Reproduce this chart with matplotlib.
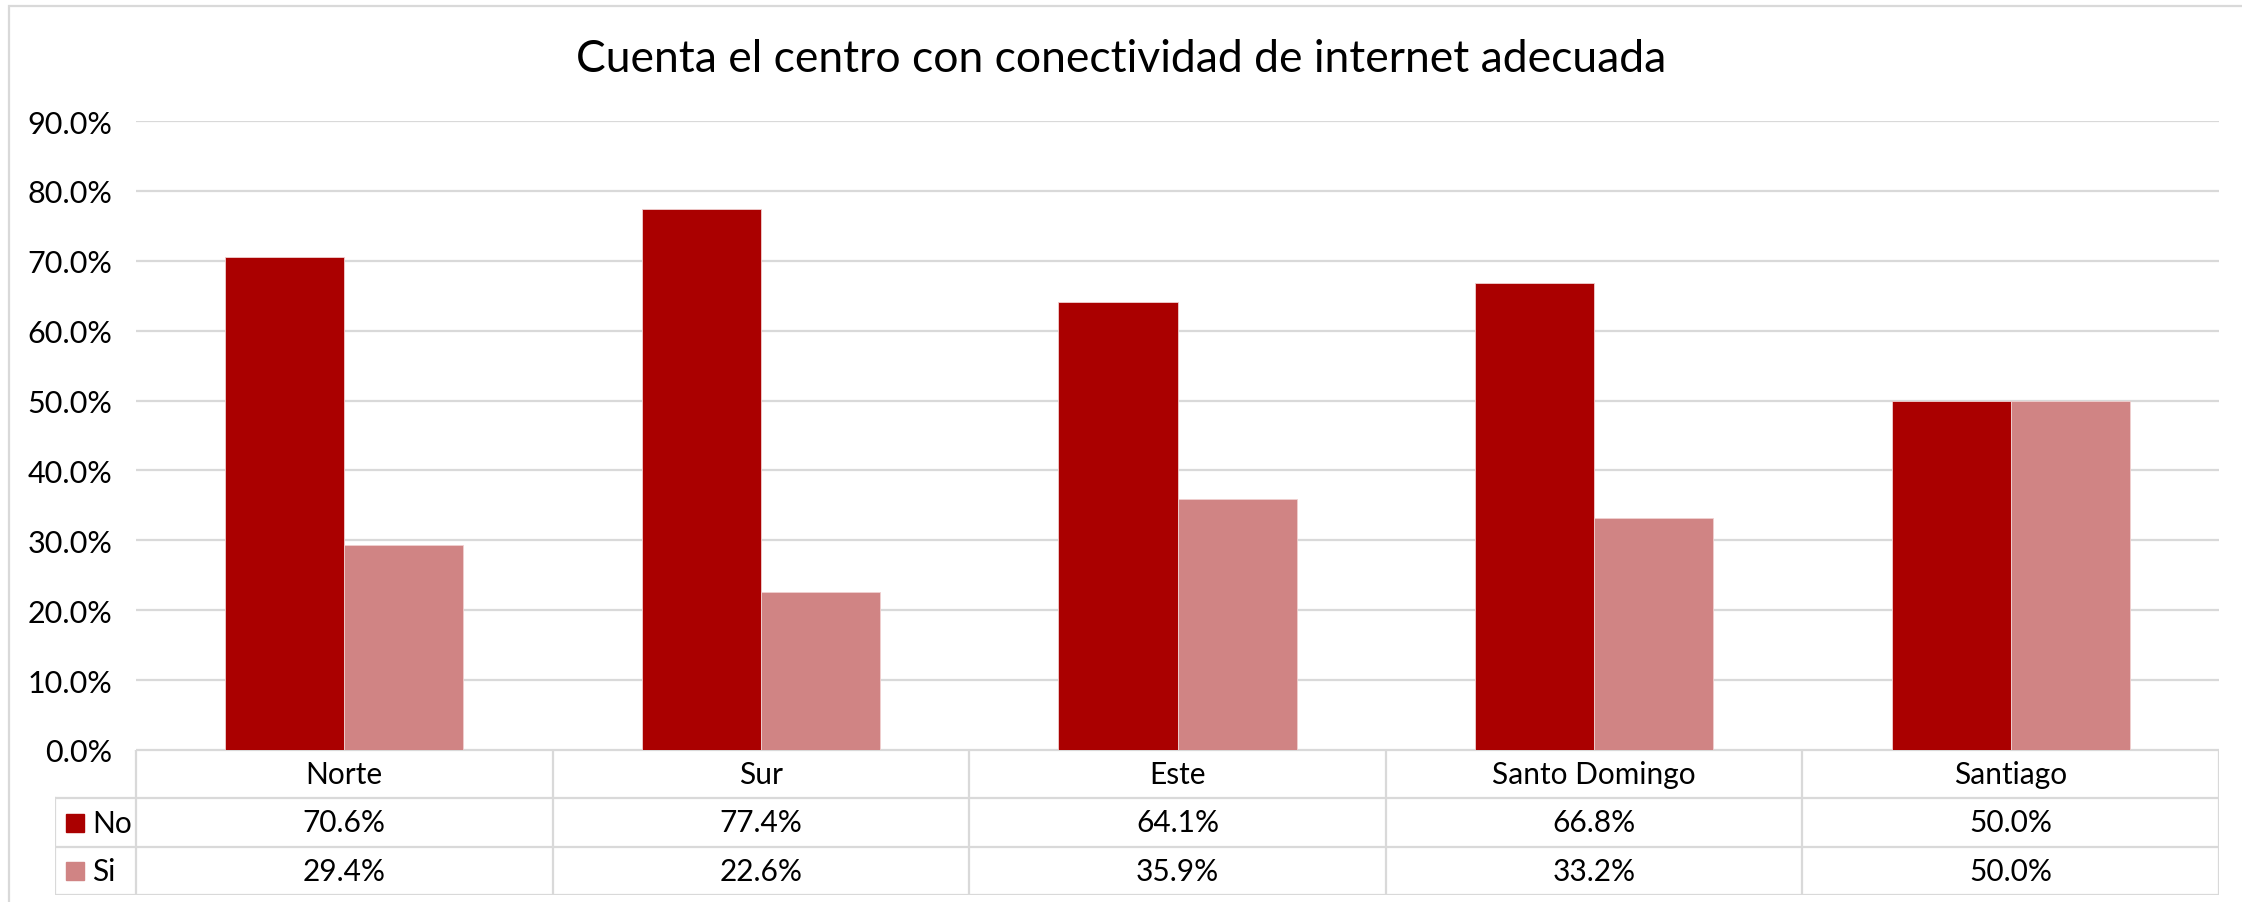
import matplotlib
matplotlib.use("Agg")
import matplotlib.pyplot as plt
from matplotlib.patches import Rectangle
from matplotlib.ticker import FuncFormatter

# ---- data ----
categories = ["Norte", "Sur", "Este", "Santo Domingo", "Santiago"]
series_names = ["No", "Si"]
no_values = [0.706, 0.774, 0.641, 0.668, 0.500]
si_values = [0.294, 0.226, 0.359, 0.332, 0.500]
y_ticks = [0.0, 0.1, 0.2, 0.3, 0.4, 0.5, 0.6, 0.7, 0.8, 0.9]
title = "Cuenta el centro con conectividad de internet adecuada"

colors = ["#AA0000", "#D08484"]
grid_color = "#D9D9D9"
FONT = ["Lato", "DejaVu Sans"]
plt.rcParams["font.family"] = FONT

W, H = 2242, 903
DPI = 100
fig = plt.figure(figsize=(W / DPI, H / DPI), dpi=DPI)

def fx(px):
    return px / W

def fy(py):
    return 1 - py / H

# outer chart border (extends past right/bottom edges)
fig.patches.append(Rectangle((fx(9), fy(915)), fx(2260) - fx(9), fy(7) - fy(915),
                             transform=fig.transFigure, fill=False,
                             edgecolor=grid_color, linewidth=1.6))

# plot area
left, right, top, bottom = 136, 2219, 122, 751
ax = fig.add_axes([fx(left), fy(bottom), fx(right) - fx(left), fy(top) - fy(bottom)])
n = len(categories)
ax.set_xlim(-0.5, n - 0.5)
ax.set_ylim(0, 0.9)

bw = 1 / 3.5  # Excel gap width 150%
xs = list(range(n))
ax.bar([x - bw / 2 for x in xs], no_values, width=bw, color=colors[0],
       edgecolor="#F0D0D0", linewidth=0.6, zorder=3)
ax.bar([x + bw / 2 for x in xs], si_values, width=bw, color=colors[1],
       edgecolor="#F0D0D0", linewidth=0.6, zorder=3)

ax.set_yticks(y_ticks)
ax.yaxis.set_major_formatter(FuncFormatter(lambda v, p: f"{v*100:.1f}%"))
ax.tick_params(axis="y", length=0, pad=17, labelsize=22, labelcolor="#000000")
ax.set_xticks([])
ax.yaxis.grid(True, color=grid_color, linewidth=1.6, zorder=0)
for s in ax.spines.values():
    s.set_visible(False)

fig.text(0.5, fy(60), title, ha="center", va="center", fontsize=32, color="#000000")

# ---- data table ----
tab_left = 55
row_edges = [751, 800, 848, 896]
cat_w = (right - left) / n
x_left_data = -0.5 - (left - tab_left) / cat_w
tax = fig.add_axes([fx(tab_left), fy(row_edges[-1]), fx(right) - fx(tab_left),
                    fy(row_edges[0]) - fy(row_edges[-1])])
tax.set_xlim(x_left_data, n - 0.5)
tax.set_ylim(3, 0)
tax.axis("off")
lw = 1.6
kw = dict(color=grid_color, linewidth=lw, solid_capstyle="projecting")
# horizontal lines
tax.plot([-0.5, n - 0.5], [0, 0], **kw)
for r in (1, 2, 3):
    tax.plot([x_left_data, n - 0.5], [r, r], **kw)
# vertical lines
for b in range(n + 1):
    tax.plot([b - 0.5, b - 0.5], [0, 3], **kw)
tax.plot([x_left_data, x_left_data], [1, 3], **kw)

fs = 21.5
for i, c in enumerate(categories):
    tax.text(i, 0.5, c, ha="center", va="center", fontsize=fs)
    tax.text(i, 1.5, f"{no_values[i]*100:.1f}%", ha="center", va="center", fontsize=fs)
    tax.text(i, 2.5, f"{si_values[i]*100:.1f}%", ha="center", va="center", fontsize=fs)

for r, (name, col) in enumerate(zip(series_names, colors)):
    yc = (row_edges[r + 1] + row_edges[r + 2]) / 2
    fig.patches.append(Rectangle((fx(66), fy(yc + 9)), fx(18), 18 / H,
                                 transform=fig.transFigure, color=col))
    fig.text(fx(92), fy(yc), name, ha="left", va="center", fontsize=fs)

fig.savefig("out.png", dpi=DPI)
